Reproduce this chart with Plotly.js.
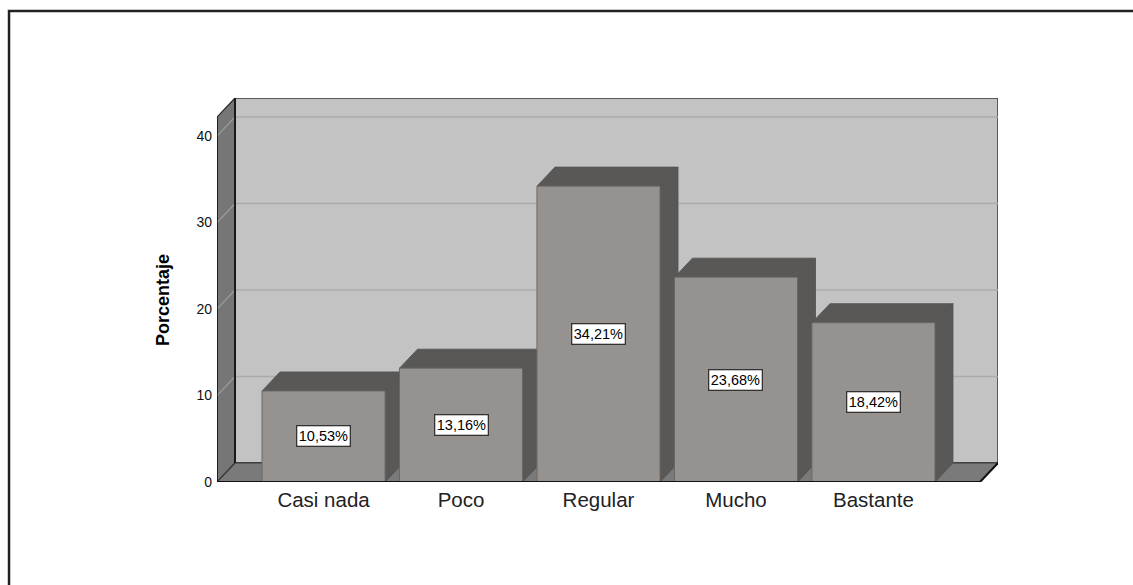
<!DOCTYPE html>
<html>
<head>
<meta charset="utf-8">
<script src="https://cdn.plot.ly/plotly-3.0.1.min.js"></script>
<style>
html,body{margin:0;padding:0;background:#fff;}
#chart{width:1133px;height:585px;}
</style>
</head>
<body>
<div id="chart"></div>
<script>
// ---- data ----
const categories = ['Casi nada', 'Poco', 'Regular', 'Mucho', 'Bastante'];
const percentages = [10.53, 13.16, 34.21, 23.68, 18.42];
const valueLabels = ['10,53%', '13,16%', '34,21%', '23,68%', '18,42%'];
const yTickValues = [0, 10, 20, 30, 40];
const yAxisTitle = 'Porcentaje';

// ---- 3D geometry (in axis units) ----
const XL = -0.775, XR = 4.775;     // front plane horizontal extent
const DX = 0.131, DY = 2.2;        // depth offset
const YTOP = 42.2;                 // front top of wall
const BW = 0.895;                  // bar width
const HW = BW / 2;

const FRONT = '#96928f', DARK = '#5a5856', EDGE = '#505050';
const FONT = 'Arial, Liberation Sans, sans-serif';
const xIdx = categories.map((c, i) => i);

const traces = [];
// side and top faces of each bar (base subplot)
xIdx.forEach((c, i) => {
  const v = percentages[i];
  traces.push({
    type: 'scatter', mode: 'lines', fill: 'toself', fillcolor: DARK,
    line: {color: EDGE, width: 0.8}, hoverinfo: 'skip', showlegend: false,
    x: [c + HW, c + HW + DX, c + HW + DX, c + HW, c + HW],
    y: [0, DY, v + DY, v, 0]
  });
  traces.push({
    type: 'scatter', mode: 'lines', fill: 'toself', fillcolor: DARK,
    line: {color: EDGE, width: 0.8}, hoverinfo: 'skip', showlegend: false,
    x: [c - HW, c - HW + DX, c + HW + DX, c + HW, c - HW],
    y: [v, v + DY, v + DY, v, v]
  });
});
// front faces (overlay subplot so they sit on top)
traces.push({
  type: 'bar', x: xIdx, y: percentages, width: BW,
  xaxis: 'x2', yaxis: 'y2',
  marker: {color: FRONT, line: {color: '#6a6866', width: 1}},
  hoverinfo: 'skip', showlegend: false
});

// ---- walls, floor, gridlines as shapes ----
const shapes = [];
const poly = (pts) => 'M' + pts.map(p => p[0] + ',' + p[1]).join('L') + 'Z';
// back wall
shapes.push({type: 'rect', xref: 'x', yref: 'y', layer: 'below',
  x0: XL + DX, x1: XR + DX, y0: DY, y1: YTOP + DY,
  fillcolor: '#c3c3c3', line: {color: '#3a3a3a', width: 1.5}});
// left side wall
shapes.push({type: 'path', xref: 'x', yref: 'y', layer: 'below',
  path: poly([[XL, 0], [XL + DX, DY], [XL + DX, YTOP + DY], [XL, YTOP]]),
  fillcolor: '#767676', line: {color: '#2a2a2a', width: 1.2}});
// floor
shapes.push({type: 'path', xref: 'x', yref: 'y', layer: 'below',
  path: poly([[XL, 0], [XR, 0], [XR + DX, DY], [XL + DX, DY]]),
  fillcolor: '#7a7a7a', line: {color: '#3a3a3a', width: 1.2}});
// gridlines
yTickValues.slice(1).forEach(v => {
  shapes.push({type: 'line', xref: 'x', yref: 'y', layer: 'below',
    x0: XL + DX, x1: XR + DX, y0: v + DY, y1: v + DY,
    line: {color: '#ababab', width: 1.5}});
  shapes.push({type: 'line', xref: 'x', yref: 'y', layer: 'below',
    x0: XL, x1: XL + DX, y0: v, y1: v + DY,
    line: {color: '#9c9c9c', width: 1.2}});
});
// back wall left edge emphasised
shapes.push({type: 'line', xref: 'x', yref: 'y', layer: 'below',
  x0: XL + DX, x1: XL + DX, y0: DY, y1: YTOP + DY,
  line: {color: '#1a1a1a', width: 2}});
// front floor edge (on top)
shapes.push({type: 'line', xref: 'x', yref: 'y', layer: 'above',
  x0: XL, x1: XR, y0: 0, y1: 0, line: {color: '#111', width: 2}});
shapes.push({type: 'line', xref: 'x', yref: 'y', layer: 'above',
  x0: XR, x1: XR + DX, y0: 0, y1: DY, line: {color: '#111', width: 2}});
shapes.push({type: 'line', xref: 'x', yref: 'y', layer: 'above',
  x0: XL, x1: XL, y0: 0, y1: YTOP, line: {color: '#111', width: 1.5}});
// outer frame
shapes.push({type: 'path', xref: 'paper', yref: 'paper', layer: 'above',
  path: 'M-0.2663,-0.4L-0.2663,1.2266L1.3,1.2266',
  line: {color: '#222', width: 2.5}});

// ---- value label annotations ----
const annotations = xIdx.map((c, i) => ({
  x: c, y: percentages[i] / 2, xref: 'x', yref: 'y',
  text: valueLabels[i], showarrow: false,
  font: {family: FONT, size: 14.5, color: '#000'},
  bgcolor: '#fff', bordercolor: '#333', borderwidth: 1.3, borderpad: 1.5
}));
annotations.push({
  xref: 'paper', yref: 'paper', x: -0.069, y: 0.474,
  xanchor: 'center', yanchor: 'middle',
  text: '<b>' + yAxisTitle + '</b>', textangle: -90, showarrow: false,
  font: {family: FONT, size: 18, color: '#000'}
});

const xr = [XL, XR + DX], yr = [0, YTOP + DY];
const layout = {
  width: 1133, height: 585,
  margin: {l: 217, r: 135, t: 98, b: 103},
  paper_bgcolor: '#fff', plot_bgcolor: 'rgba(0,0,0,0)',
  showlegend: false,
  xaxis: {range: xr, tickvals: xIdx, ticktext: categories, showgrid: false,
    zeroline: false, showline: false, ticks: '', ticklabelstandoff: 3,
    tickfont: {family: FONT, size: 20.5, color: '#222'},
    fixedrange: true},
  yaxis: {range: yr, tickvals: yTickValues, showgrid: false, zeroline: false,
    showline: false, ticks: '', ticklabelstandoff: 4,
    tickfont: {family: FONT, size: 14, color: '#111'},
    fixedrange: true},
  xaxis2: {range: xr, overlaying: 'x', visible: false, fixedrange: true},
  yaxis2: {range: yr, overlaying: 'y', visible: false, fixedrange: true},
  shapes: shapes,
  annotations: annotations
};
Plotly.newPlot('chart', traces, layout, {displayModeBar: false, staticPlot: true});
</script>
</body>
</html>
